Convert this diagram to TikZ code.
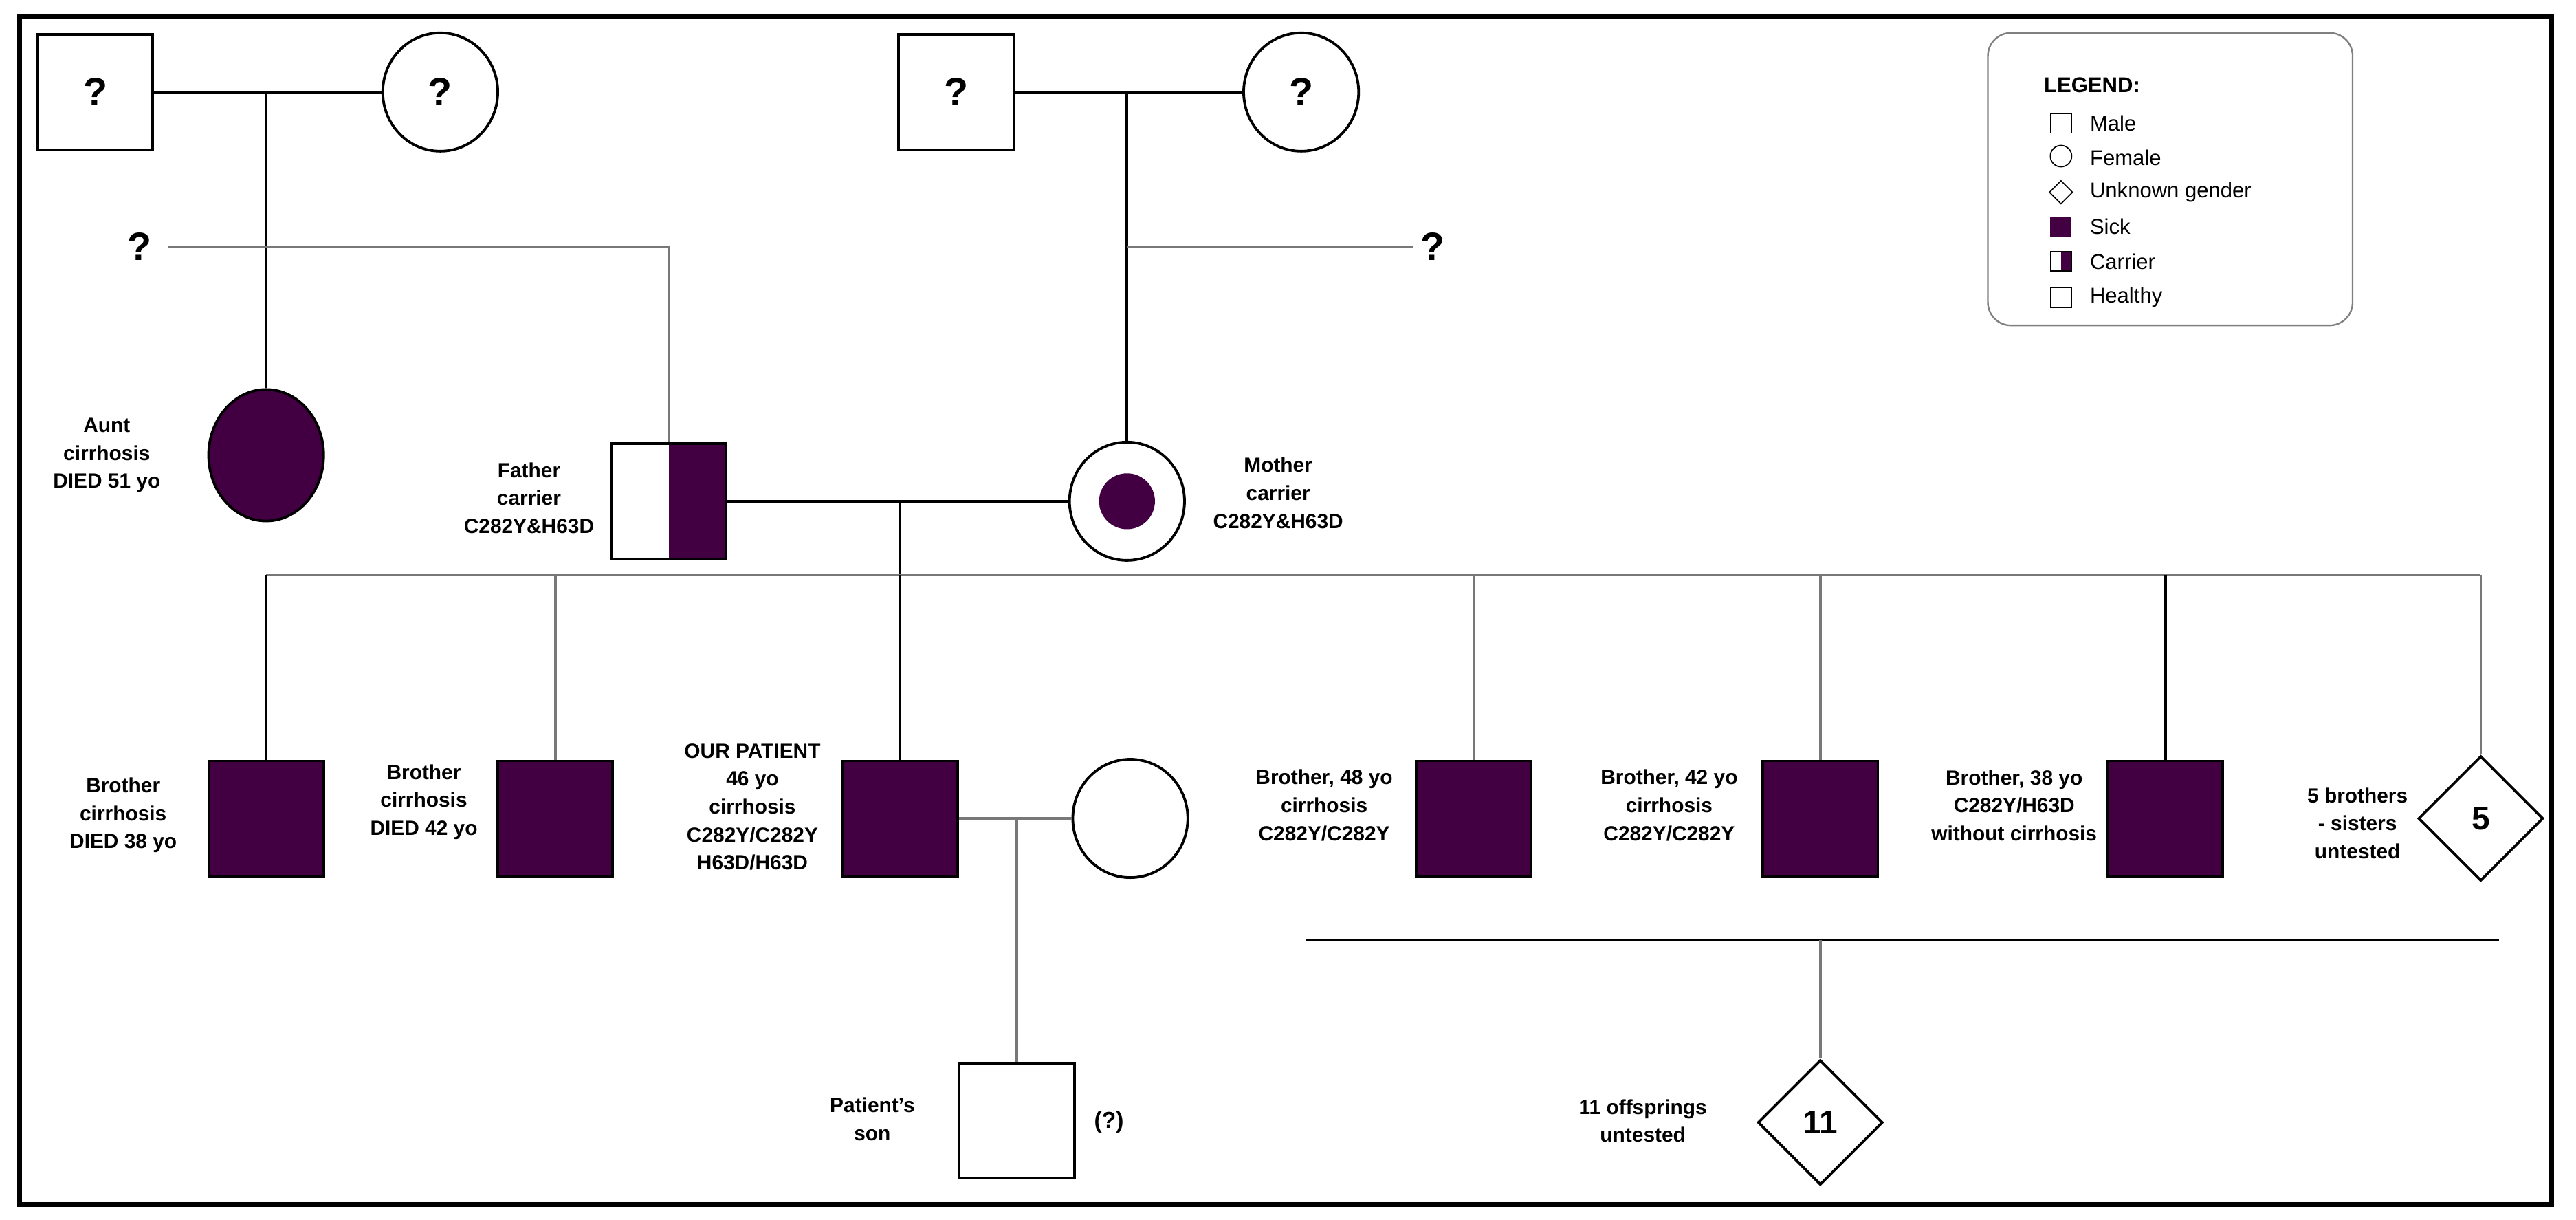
\documentclass[tikz,border=0pt]{standalone}
\usepackage{fontspec}
\setmainfont{Liberation Sans}
\usetikzlibrary{shapes.geometric}
\definecolor{sick}{RGB}{66,0,66}
\definecolor{gl}{RGB}{120,120,120}
\begin{document}
\begin{tikzpicture}[x=1pt,y=-1pt,
  line width=1.6pt,
  male/.style={draw,rectangle,minimum size=70pt,inner sep=0pt},
  fem/.style={draw,ellipse,minimum width=70pt,minimum height=72pt,inner sep=0pt},
  unk/.style={draw,diamond,minimum size=76pt,inner sep=0pt,font=\fontsize{20}{20}\selectfont\bfseries},
  q/.style={font=\fontsize{24}{24}\selectfont\bfseries},
  lab/.style={align=center,font=\fontsize{12.5}{17}\selectfont\bfseries},
  leg/.style={anchor=west,font=\fontsize{13}{13}\selectfont}]
\useasboundingbox (0,0) rectangle (1568,742);
\draw[line width=3pt] (12,10) rectangle (1553,733);
% grandparents left
\node[male,q] (gf1) at (58,56) {?};
\node[fem,q] (gm1) at (268,56) {?};
\coordinate (m1) at (162,56);
\draw (gf1) -- (gm1);
\node[fem,fill=sick,minimum height=80pt] (aunt) at (162,277) {};
\draw (m1) -- (aunt);
\node[lab] (auntl) at (65,277) {Aunt\\cirrhosis\\DIED 51 yo};
% father
\node[male,fill=white] (fa) at (407,305) {};
\fill[sick] (407,270) rectangle (442,340);
\draw (372,270) rectangle (442,340);
\node[q] (q1) at (85,150) {?};
\coordinate (fat) at (407,150);
\draw[gl] (q1.east) ++(6,0) -- (fat) -- (fa.north);
\node[lab] (fal) at (322,303) {Father\\carrier\\C282Y\&H63D};
% grandparents right
\node[male,q] (gf2) at (582,56) {?};
\node[fem,q] (gm2) at (792,56) {?};
\coordinate (m2) at (686,56);
\draw (gf2) -- (gm2);
\node[fem] (mo) at (686,305) {};
\fill[sick] (686,305) circle (17);
\draw (m2) -- (mo);
\node[q] (q2) at (872,150) {?};
\coordinate (mq) at (686,150);
\draw[gl] (mq) -- (q2.west);
\node[lab] (mol) at (778,300) {Mother\\carrier\\C282Y\&H63D};
% couple
\draw (fa.east) -- (mo.west);
\coordinate (cm) at (548,305);
\coordinate (sib) at (548,350);
\draw (cm) -- (sib);
\draw[gl] (162,350) -- (1510,350);
% siblings
\node[male,fill=sick] (b1) at (162,498) {};
\node[male,fill=sick] (b2) at (338,498) {};
\node[male,fill=sick] (pt) at (548,498) {};
\node[male,fill=sick] (b4) at (897,498) {};
\node[male,fill=sick] (b5) at (1108,498) {};
\node[male,fill=sick] (b6) at (1318,498) {};
\node[unk] (d5) at (1510,498) {5};
\draw (162,350) -- (b1.north);
\draw[gl] (338,350) -- (b2.north);
\draw (548,350) -- (pt.north);
\draw[gl] (897,350) -- (b4.north);
\draw[gl] (1108,350) -- (b5.north);
\draw (1318,350) -- (b6.north);
\draw[gl] (1510,350) -- (d5.north);
\node[lab] at (75,496) {Brother\\cirrhosis\\DIED 38 yo};
\node[lab] at (258,488) {Brother\\cirrhosis\\DIED 42 yo};
\node[lab] at (458,491) {OUR PATIENT\\46 yo\\cirrhosis\\C282Y/C282Y\\H63D/H63D};
\node[lab] at (806,490) {Brother, 48 yo\\cirrhosis\\C282Y/C282Y};
\node[lab] at (1016,490) {Brother, 42 yo\\cirrhosis\\C282Y/C282Y};
\node[lab] at (1226,490) {Brother, 38 yo\\C282Y/H63D\\without cirrhosis};
\node[lab] at (1435,501) {5 brothers\\- sisters\\untested};
% patient family
\node[fem] (wife) at (688,498) {};
\draw[gl] (pt.east) -- (wife.west);
\coordinate (pm) at (619,498);
\node[male] (son) at (619,682) {};
\draw[gl] (pm) -- (son.north);
\node[font=\fontsize{14}{14}\selectfont\bfseries] at (675,683) {(?)};
\node[lab] at (531,681) {Patient's\\son};
% offspring
\coordinate (ol) at (795,572);
\coordinate (or) at (1521,572);
\draw (ol) -- (or);
\node[unk] (d11) at (1108,683) {11};
\draw[gl] (1108,572) -- (d11.north);
\node[lab] at (1000,682) {11 offsprings\\untested};
% legend
\draw[line width=1pt,rounded corners=14pt,draw=gray] (1210,20) rectangle (1432,198);
\node[anchor=west,font=\fontsize{13}{13}\selectfont\bfseries] at (1240,52) {LEGEND:};
\begin{scope}[line width=0.7pt]
\draw (1248,69) rectangle (1261,81);
\draw (1254.5,95) circle (6.5);
\draw (1254.5,110) -- (1261.5,117) -- (1254.5,124) -- (1247.5,117) -- cycle;
\fill[sick] (1248,132) rectangle (1261,144);
\fill[sick] (1254.5,153) rectangle (1261,165);
\draw (1248,153) rectangle (1261,165);
\draw (1248,175) rectangle (1261,187);
\end{scope}
\node[leg] at (1268,75) {Male};
\node[leg] at (1268,96) {Female};
\node[leg] at (1268,117) {Unknown gender};
\node[leg] at (1268,138) {Sick};
\node[leg] at (1268,159) {Carrier};
\node[leg] at (1268,181) {Healthy};
\end{tikzpicture}
\end{document}
